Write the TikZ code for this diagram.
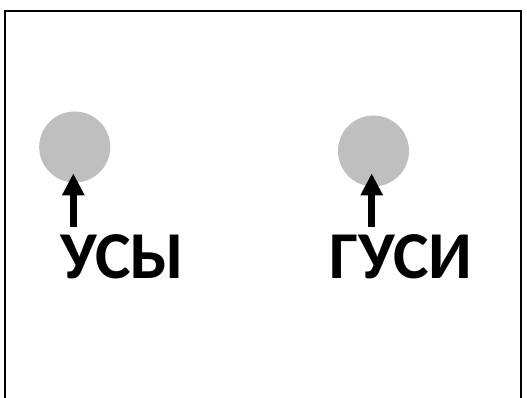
\documentclass[tikz,border=0pt]{standalone}
\usepackage{fontspec}
\setmainfont{Carlito}
\usetikzlibrary{arrows.meta}
\begin{document}
\begin{tikzpicture}[x=1pt,y=1pt,
  dot/.style={circle,fill=black!25,minimum size=71pt,inner sep=0pt},
  word/.style={font=\bfseries\fontsize{67}{67}\selectfont,inner sep=0pt,anchor=base west},
  pointer/.style={line width=7pt,-{Triangle[length=22pt,width=21pt]}}]
  \useasboundingbox (0,0) rectangle (527,398);
  \fill[white] (0,0) rectangle (527,398);
  % frame, open at the bottom
  \draw[line width=2pt] (5,-5) -- (5,387) -- (521,387) -- (521,-5);
  % dots
  \node[dot] (c1) at (74.7,251) {};
  \node[dot] (c2) at (373.5,247) {};
  % words
  \node[word] (l1) at (60,119.7) {УСЫ};
  \node[word] (l2) at (329,119.7) {ГУСИ};
  % pointers from the words up into the dots
  \coordinate (s1) at (73.3,171.3);
  \coordinate (t1) at (73.3,224.7);
  \coordinate (s2) at (371.7,171.3);
  \coordinate (t2) at (371.7,224.7);
  \draw[pointer] (s1) -- (t1);
  \draw[pointer] (s2) -- (t2);
\end{tikzpicture}
\end{document}
